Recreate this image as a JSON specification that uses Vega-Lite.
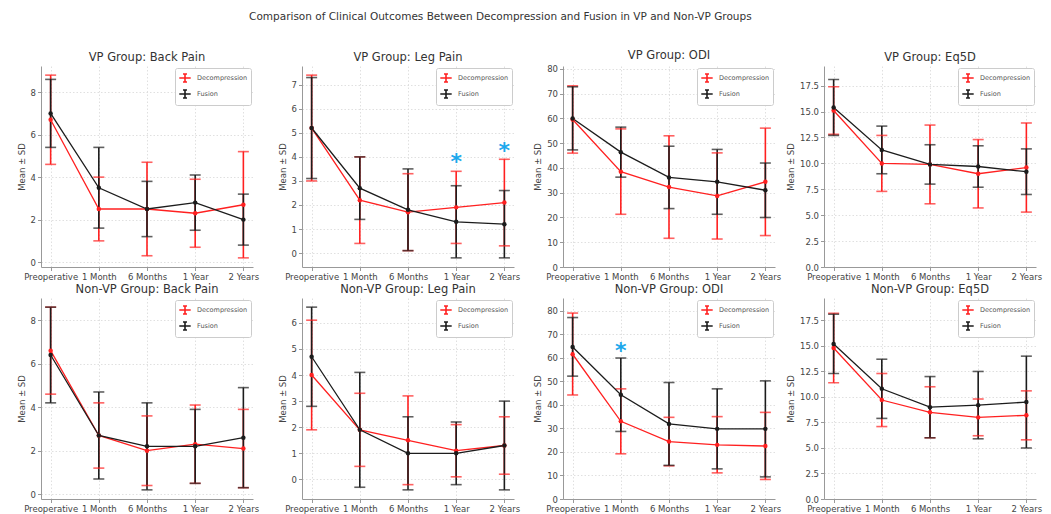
{
  "$schema": "https://vega.github.io/schema/vega-lite/v6.json",
  "background": "white",
  "padding": {"left": 17, "top": 11, "right": 5, "bottom": 5},
  "title": {"text": "Comparison of Clinical Outcomes Between Decompression and Fusion in VP and Non-VP Groups", "fontSize": 10.5, "fontWeight": "normal", "color": "#333", "anchor": "middle", "offset": 28, "dx": -29},
  "bounds": "flush",
  "columns": 4,
  "spacing": {"row": 31, "column": 49},
  "resolve": {"scale": {"color": "independent", "x": "independent", "y": "independent"}, "legend": {"color": "independent"}},
  "datasets": {
    "stars": [
      {"panel": "VP Leg Pain", "time": "1 Year", "y": 4.05},
      {"panel": "VP Leg Pain", "time": "2 Years", "y": 4.5},
      {"panel": "Non-VP ODI", "time": "1 Month", "y": 65.6}
    ]
  },
  "data": {"values": [
    {"panel": "VP Back Pain", "group": "Decompression", "time": "Preoperative", "mean": 6.7, "lo": 4.6, "hi": 8.8},
    {"panel": "VP Back Pain", "group": "Decompression", "time": "1 Month", "mean": 2.5, "lo": 1.0, "hi": 4.0},
    {"panel": "VP Back Pain", "group": "Decompression", "time": "6 Months", "mean": 2.5, "lo": 0.3, "hi": 4.7},
    {"panel": "VP Back Pain", "group": "Decompression", "time": "1 Year", "mean": 2.3, "lo": 0.7, "hi": 3.9},
    {"panel": "VP Back Pain", "group": "Decompression", "time": "2 Years", "mean": 2.7, "lo": 0.2, "hi": 5.2},
    {"panel": "VP Back Pain", "group": "Fusion", "time": "Preoperative", "mean": 7.0, "lo": 5.4, "hi": 8.6},
    {"panel": "VP Back Pain", "group": "Fusion", "time": "1 Month", "mean": 3.5, "lo": 1.6, "hi": 5.4},
    {"panel": "VP Back Pain", "group": "Fusion", "time": "6 Months", "mean": 2.5, "lo": 1.2, "hi": 3.8},
    {"panel": "VP Back Pain", "group": "Fusion", "time": "1 Year", "mean": 2.8, "lo": 1.5, "hi": 4.1},
    {"panel": "VP Back Pain", "group": "Fusion", "time": "2 Years", "mean": 2.0, "lo": 0.8, "hi": 3.2},

    {"panel": "VP Leg Pain", "group": "Decompression", "time": "Preoperative", "mean": 5.2, "lo": 3.0, "hi": 7.4},
    {"panel": "VP Leg Pain", "group": "Decompression", "time": "1 Month", "mean": 2.2, "lo": 0.4, "hi": 4.0},
    {"panel": "VP Leg Pain", "group": "Decompression", "time": "6 Months", "mean": 1.7, "lo": 0.1, "hi": 3.3},
    {"panel": "VP Leg Pain", "group": "Decompression", "time": "1 Year", "mean": 1.9, "lo": 0.4, "hi": 3.4},
    {"panel": "VP Leg Pain", "group": "Decompression", "time": "2 Years", "mean": 2.1, "lo": 0.3, "hi": 3.9},
    {"panel": "VP Leg Pain", "group": "Fusion", "time": "Preoperative", "mean": 5.2, "lo": 3.1, "hi": 7.3},
    {"panel": "VP Leg Pain", "group": "Fusion", "time": "1 Month", "mean": 2.7, "lo": 1.4, "hi": 4.0},
    {"panel": "VP Leg Pain", "group": "Fusion", "time": "6 Months", "mean": 1.8, "lo": 0.1, "hi": 3.5},
    {"panel": "VP Leg Pain", "group": "Fusion", "time": "1 Year", "mean": 1.3, "lo": -0.2, "hi": 2.8},
    {"panel": "VP Leg Pain", "group": "Fusion", "time": "2 Years", "mean": 1.2, "lo": -0.2, "hi": 2.6},

    {"panel": "VP ODI", "group": "Decompression", "time": "Preoperative", "mean": 59.6, "lo": 46.0, "hi": 73.2},
    {"panel": "VP ODI", "group": "Decompression", "time": "1 Month", "mean": 38.5, "lo": 21.3, "hi": 55.8},
    {"panel": "VP ODI", "group": "Decompression", "time": "6 Months", "mean": 32.3, "lo": 11.6, "hi": 53.0},
    {"panel": "VP ODI", "group": "Decompression", "time": "1 Year", "mean": 28.7, "lo": 11.3, "hi": 46.1},
    {"panel": "VP ODI", "group": "Decompression", "time": "2 Years", "mean": 34.4, "lo": 12.7, "hi": 56.1},
    {"panel": "VP ODI", "group": "Fusion", "time": "Preoperative", "mean": 60.0, "lo": 47.3, "hi": 72.8},
    {"panel": "VP ODI", "group": "Fusion", "time": "1 Month", "mean": 46.4, "lo": 36.3, "hi": 56.5},
    {"panel": "VP ODI", "group": "Fusion", "time": "6 Months", "mean": 36.2, "lo": 23.6, "hi": 48.8},
    {"panel": "VP ODI", "group": "Fusion", "time": "1 Year", "mean": 34.4, "lo": 21.3, "hi": 47.5},
    {"panel": "VP ODI", "group": "Fusion", "time": "2 Years", "mean": 31.0, "lo": 20.0, "hi": 42.0},

    {"panel": "VP Eq5D", "group": "Decompression", "time": "Preoperative", "mean": 15.1, "lo": 12.8, "hi": 17.4},
    {"panel": "VP Eq5D", "group": "Decompression", "time": "1 Month", "mean": 10.0, "lo": 7.3, "hi": 12.7},
    {"panel": "VP Eq5D", "group": "Decompression", "time": "6 Months", "mean": 9.9, "lo": 6.1, "hi": 13.7},
    {"panel": "VP Eq5D", "group": "Decompression", "time": "1 Year", "mean": 9.0, "lo": 5.7, "hi": 12.3},
    {"panel": "VP Eq5D", "group": "Decompression", "time": "2 Years", "mean": 9.6, "lo": 5.3, "hi": 13.9},
    {"panel": "VP Eq5D", "group": "Fusion", "time": "Preoperative", "mean": 15.4, "lo": 12.7, "hi": 18.1},
    {"panel": "VP Eq5D", "group": "Fusion", "time": "1 Month", "mean": 11.3, "lo": 9.0, "hi": 13.6},
    {"panel": "VP Eq5D", "group": "Fusion", "time": "6 Months", "mean": 9.9, "lo": 8.0, "hi": 11.8},
    {"panel": "VP Eq5D", "group": "Fusion", "time": "1 Year", "mean": 9.7, "lo": 7.7, "hi": 11.7},
    {"panel": "VP Eq5D", "group": "Fusion", "time": "2 Years", "mean": 9.2, "lo": 7.0, "hi": 11.4},

    {"panel": "Non-VP Back Pain", "group": "Decompression", "time": "Preoperative", "mean": 6.6, "lo": 4.6, "hi": 8.6},
    {"panel": "Non-VP Back Pain", "group": "Decompression", "time": "1 Month", "mean": 2.7, "lo": 1.2, "hi": 4.2},
    {"panel": "Non-VP Back Pain", "group": "Decompression", "time": "6 Months", "mean": 2.0, "lo": 0.4, "hi": 3.6},
    {"panel": "Non-VP Back Pain", "group": "Decompression", "time": "1 Year", "mean": 2.3, "lo": 0.5, "hi": 4.1},
    {"panel": "Non-VP Back Pain", "group": "Decompression", "time": "2 Years", "mean": 2.1, "lo": 0.3, "hi": 3.9},
    {"panel": "Non-VP Back Pain", "group": "Fusion", "time": "Preoperative", "mean": 6.4, "lo": 4.2, "hi": 8.6},
    {"panel": "Non-VP Back Pain", "group": "Fusion", "time": "1 Month", "mean": 2.7, "lo": 0.7, "hi": 4.7},
    {"panel": "Non-VP Back Pain", "group": "Fusion", "time": "6 Months", "mean": 2.2, "lo": 0.2, "hi": 4.2},
    {"panel": "Non-VP Back Pain", "group": "Fusion", "time": "1 Year", "mean": 2.2, "lo": 0.5, "hi": 3.9},
    {"panel": "Non-VP Back Pain", "group": "Fusion", "time": "2 Years", "mean": 2.6, "lo": 0.3, "hi": 4.9},

    {"panel": "Non-VP Leg Pain", "group": "Decompression", "time": "Preoperative", "mean": 4.0, "lo": 1.9, "hi": 6.1},
    {"panel": "Non-VP Leg Pain", "group": "Decompression", "time": "1 Month", "mean": 1.9, "lo": 0.5, "hi": 3.3},
    {"panel": "Non-VP Leg Pain", "group": "Decompression", "time": "6 Months", "mean": 1.5, "lo": -0.2, "hi": 3.2},
    {"panel": "Non-VP Leg Pain", "group": "Decompression", "time": "1 Year", "mean": 1.1, "lo": 0.1, "hi": 2.1},
    {"panel": "Non-VP Leg Pain", "group": "Decompression", "time": "2 Years", "mean": 1.3, "lo": 0.2, "hi": 2.4},
    {"panel": "Non-VP Leg Pain", "group": "Fusion", "time": "Preoperative", "mean": 4.7, "lo": 2.8, "hi": 6.6},
    {"panel": "Non-VP Leg Pain", "group": "Fusion", "time": "1 Month", "mean": 1.9, "lo": -0.3, "hi": 4.1},
    {"panel": "Non-VP Leg Pain", "group": "Fusion", "time": "6 Months", "mean": 1.0, "lo": -0.4, "hi": 2.4},
    {"panel": "Non-VP Leg Pain", "group": "Fusion", "time": "1 Year", "mean": 1.0, "lo": -0.2, "hi": 2.2},
    {"panel": "Non-VP Leg Pain", "group": "Fusion", "time": "2 Years", "mean": 1.3, "lo": -0.4, "hi": 3.0},

    {"panel": "Non-VP ODI", "group": "Decompression", "time": "Preoperative", "mean": 61.5, "lo": 44.2, "hi": 79.0},
    {"panel": "Non-VP ODI", "group": "Decompression", "time": "1 Month", "mean": 33.0, "lo": 19.2, "hi": 46.8},
    {"panel": "Non-VP ODI", "group": "Decompression", "time": "6 Months", "mean": 24.4, "lo": 14.1, "hi": 34.7},
    {"panel": "Non-VP ODI", "group": "Decompression", "time": "1 Year", "mean": 23.0, "lo": 11.1, "hi": 35.0},
    {"panel": "Non-VP ODI", "group": "Decompression", "time": "2 Years", "mean": 22.5, "lo": 8.3, "hi": 36.8},
    {"panel": "Non-VP ODI", "group": "Fusion", "time": "Preoperative", "mean": 64.6, "lo": 52.2, "hi": 77.1},
    {"panel": "Non-VP ODI", "group": "Fusion", "time": "1 Month", "mean": 44.3, "lo": 28.7, "hi": 59.9},
    {"panel": "Non-VP ODI", "group": "Fusion", "time": "6 Months", "mean": 31.9, "lo": 14.3, "hi": 49.5},
    {"panel": "Non-VP ODI", "group": "Fusion", "time": "1 Year", "mean": 29.8, "lo": 12.8, "hi": 46.8},
    {"panel": "Non-VP ODI", "group": "Fusion", "time": "2 Years", "mean": 29.8, "lo": 9.4, "hi": 50.2},

    {"panel": "Non-VP Eq5D", "group": "Decompression", "time": "Preoperative", "mean": 14.8, "lo": 11.4, "hi": 18.2},
    {"panel": "Non-VP Eq5D", "group": "Decompression", "time": "1 Month", "mean": 9.7, "lo": 7.1, "hi": 12.3},
    {"panel": "Non-VP Eq5D", "group": "Decompression", "time": "6 Months", "mean": 8.5, "lo": 6.0, "hi": 11.0},
    {"panel": "Non-VP Eq5D", "group": "Decompression", "time": "1 Year", "mean": 8.0, "lo": 6.2, "hi": 9.8},
    {"panel": "Non-VP Eq5D", "group": "Decompression", "time": "2 Years", "mean": 8.2, "lo": 5.8, "hi": 10.6},
    {"panel": "Non-VP Eq5D", "group": "Fusion", "time": "Preoperative", "mean": 15.2, "lo": 12.3, "hi": 18.1},
    {"panel": "Non-VP Eq5D", "group": "Fusion", "time": "1 Month", "mean": 10.8, "lo": 7.9, "hi": 13.7},
    {"panel": "Non-VP Eq5D", "group": "Fusion", "time": "6 Months", "mean": 9.0, "lo": 6.0, "hi": 12.0},
    {"panel": "Non-VP Eq5D", "group": "Fusion", "time": "1 Year", "mean": 9.2, "lo": 5.9, "hi": 12.5},
    {"panel": "Non-VP Eq5D", "group": "Fusion", "time": "2 Years", "mean": 9.5, "lo": 5.0, "hi": 14.0}
  ]},
  "config": {
    "font": "DejaVu Sans",
    "view": {"stroke": null},
    "axis": {"labelFont": "DejaVu Sans", "labelFontSize": 8.5, "labelColor": "#444", "titleFont": "DejaVu Sans", "titleFontSize": 8.5, "titleFontWeight": "normal", "titleColor": "#444", "domainColor": "#999", "tickColor": "#999", "tickSize": 3.5, "labelPadding": 2, "grid": true, "gridColor": "#d8d8d8", "gridDash": [1.5, 2], "gridWidth": 0.8},
    "axisX": {"labelAngle": 0, "labelOverlap": false, "labelBound": false},
    "axisY": {"titlePadding": 4, "labelOverlap": false},
    "title": {"font": "DejaVu Sans", "fontSize": 11.5, "fontWeight": "normal", "color": "#333", "offset": 3},
    "legend": {"orient": "top-right", "offset": 2, "padding": 3, "strokeColor": "#cccccc", "fillColor": "white", "cornerRadius": 2, "labelFont": "DejaVu Sans", "labelFontSize": 6.5, "labelColor": "#555", "rowPadding": 0, "labelOffset": 5},
    "line": {"strokeWidth": 1.3},
    "rule": {"strokeWidth": 1.6},
    "point": {"filled": true, "size": 20, "opacity": 1},
    "text": {"font": "DejaVu Sans"}
  },
  "concat": [
    {
      "title": "VP Group: Back Pain", "width": 212, "height": 201,
      "transform": [{"filter": "datum.panel === 'VP Back Pain'"}],
      "encoding": {
        "x": {"field": "time", "type": "ordinal", "title": null, "sort": ["Preoperative", "1 Month", "6 Months", "1 Year", "2 Years"], "scale": {"type": "point", "padding": 0.2}},
        "color": {"field": "group", "type": "nominal", "scale": {"domain": ["Decompression", "Fusion"], "range": ["#ff2020", "#1c1c1c"]}, "legend": {"title": null, "symbolType": "M-1,0H1M0,-0.7V0.7M-0.35,-0.7H0.35M-0.35,0.7H0.35", "symbolSize": 130, "symbolStrokeWidth": 1.3}}
      },
      "layer": [
        {"mark": "rule", "encoding": {"y": {"field": "lo", "type": "quantitative", "title": "Mean ± SD", "scale": {"domain": [-0.23, 9.23], "nice": false, "zero": false}, "axis": {"values": [0, 2, 4, 6, 8]}}, "y2": {"field": "hi"}}},
        {"mark": {"type": "tick", "size": 11, "thickness": 1.6}, "encoding": {"y": {"field": "lo", "type": "quantitative", "title": "Mean ± SD", "scale": {"domain": [-0.23, 9.23], "nice": false, "zero": false}, "axis": {"values": [0, 2, 4, 6, 8]}}}},
        {"mark": {"type": "tick", "size": 11, "thickness": 1.6}, "encoding": {"y": {"field": "hi", "type": "quantitative", "title": "Mean ± SD", "scale": {"domain": [-0.23, 9.23], "nice": false, "zero": false}, "axis": {"values": [0, 2, 4, 6, 8]}}}},
        {"mark": "line", "encoding": {"y": {"field": "mean", "type": "quantitative", "title": "Mean ± SD", "scale": {"domain": [-0.23, 9.23], "nice": false, "zero": false}, "axis": {"values": [0, 2, 4, 6, 8]}}}},
        {"mark": "point", "encoding": {"y": {"field": "mean", "type": "quantitative", "title": "Mean ± SD", "scale": {"domain": [-0.23, 9.23], "nice": false, "zero": false}, "axis": {"values": [0, 2, 4, 6, 8]}}}}
      ]
    },
    {
      "title": "VP Group: Leg Pain", "width": 212, "height": 201,
      "transform": [{"filter": "datum.panel === 'VP Leg Pain'"}],
      "encoding": {
        "x": {"field": "time", "type": "ordinal", "title": null, "sort": ["Preoperative", "1 Month", "6 Months", "1 Year", "2 Years"], "scale": {"type": "point", "padding": 0.2}},
        "color": {"field": "group", "type": "nominal", "scale": {"domain": ["Decompression", "Fusion"], "range": ["#ff2020", "#1c1c1c"]}, "legend": {"title": null, "symbolType": "M-1,0H1M0,-0.7V0.7M-0.35,-0.7H0.35M-0.35,0.7H0.35", "symbolSize": 130, "symbolStrokeWidth": 1.3}}
      },
      "layer": [
        {"mark": "rule", "encoding": {"y": {"field": "lo", "type": "quantitative", "title": "Mean ± SD", "scale": {"domain": [-0.58, 7.78], "nice": false, "zero": false}, "axis": {"values": [0, 1, 2, 3, 4, 5, 6, 7]}}, "y2": {"field": "hi"}}},
        {"mark": {"type": "tick", "size": 11, "thickness": 1.6}, "encoding": {"y": {"field": "lo", "type": "quantitative", "title": "Mean ± SD", "scale": {"domain": [-0.58, 7.78], "nice": false, "zero": false}, "axis": {"values": [0, 1, 2, 3, 4, 5, 6, 7]}}}},
        {"mark": {"type": "tick", "size": 11, "thickness": 1.6}, "encoding": {"y": {"field": "hi", "type": "quantitative", "title": "Mean ± SD", "scale": {"domain": [-0.58, 7.78], "nice": false, "zero": false}, "axis": {"values": [0, 1, 2, 3, 4, 5, 6, 7]}}}},
        {"mark": "line", "encoding": {"y": {"field": "mean", "type": "quantitative", "title": "Mean ± SD", "scale": {"domain": [-0.58, 7.78], "nice": false, "zero": false}, "axis": {"values": [0, 1, 2, 3, 4, 5, 6, 7]}}}},
        {"mark": "point", "encoding": {"y": {"field": "mean", "type": "quantitative", "title": "Mean ± SD", "scale": {"domain": [-0.58, 7.78], "nice": false, "zero": false}, "axis": {"values": [0, 1, 2, 3, 4, 5, 6, 7]}}}},
        {"data": {"name": "stars"}, "transform": [{"filter": "datum.panel === 'VP Leg Pain'"}], "mark": {"type": "text", "text": "*", "fontSize": 22, "fontWeight": "bold", "baseline": "alphabetic", "dy": 13}, "encoding": {"y": {"field": "y", "type": "quantitative", "title": "Mean ± SD", "scale": {"domain": [-0.58, 7.78], "nice": false, "zero": false}, "axis": {"values": [0, 1, 2, 3, 4, 5, 6, 7]}}, "color": {"value": "#1ca8ec"}}}
      ]
    },
    {
      "title": "VP Group: ODI", "width": 212, "height": 201,
      "transform": [{"filter": "datum.panel === 'VP ODI'"}],
      "encoding": {
        "x": {"field": "time", "type": "ordinal", "title": null, "sort": ["Preoperative", "1 Month", "6 Months", "1 Year", "2 Years"], "scale": {"type": "point", "padding": 0.2}},
        "color": {"field": "group", "type": "nominal", "scale": {"domain": ["Decompression", "Fusion"], "range": ["#ff2020", "#1c1c1c"]}, "legend": {"title": null, "symbolType": "M-1,0H1M0,-0.7V0.7M-0.35,-0.7H0.35M-0.35,0.7H0.35", "symbolSize": 130, "symbolStrokeWidth": 1.3}}
      },
      "layer": [
        {"mark": "rule", "encoding": {"y": {"field": "lo", "type": "quantitative", "title": "Mean ± SD", "scale": {"domain": [0, 81.2], "nice": false, "zero": false}, "axis": {"values": [0, 10, 20, 30, 40, 50, 60, 70, 80]}}, "y2": {"field": "hi"}}},
        {"mark": {"type": "tick", "size": 11, "thickness": 1.6}, "encoding": {"y": {"field": "lo", "type": "quantitative", "title": "Mean ± SD", "scale": {"domain": [0, 81.2], "nice": false, "zero": false}, "axis": {"values": [0, 10, 20, 30, 40, 50, 60, 70, 80]}}}},
        {"mark": {"type": "tick", "size": 11, "thickness": 1.6}, "encoding": {"y": {"field": "hi", "type": "quantitative", "title": "Mean ± SD", "scale": {"domain": [0, 81.2], "nice": false, "zero": false}, "axis": {"values": [0, 10, 20, 30, 40, 50, 60, 70, 80]}}}},
        {"mark": "line", "encoding": {"y": {"field": "mean", "type": "quantitative", "title": "Mean ± SD", "scale": {"domain": [0, 81.2], "nice": false, "zero": false}, "axis": {"values": [0, 10, 20, 30, 40, 50, 60, 70, 80]}}}},
        {"mark": "point", "encoding": {"y": {"field": "mean", "type": "quantitative", "title": "Mean ± SD", "scale": {"domain": [0, 81.2], "nice": false, "zero": false}, "axis": {"values": [0, 10, 20, 30, 40, 50, 60, 70, 80]}}}}
      ]
    },
    {
      "title": "VP Group: Eq5D", "width": 212, "height": 201,
      "transform": [{"filter": "datum.panel === 'VP Eq5D'"}],
      "encoding": {
        "x": {"field": "time", "type": "ordinal", "title": null, "sort": ["Preoperative", "1 Month", "6 Months", "1 Year", "2 Years"], "scale": {"type": "point", "padding": 0.2}},
        "color": {"field": "group", "type": "nominal", "scale": {"domain": ["Decompression", "Fusion"], "range": ["#ff2020", "#1c1c1c"]}, "legend": {"title": null, "symbolType": "M-1,0H1M0,-0.7V0.7M-0.35,-0.7H0.35M-0.35,0.7H0.35", "symbolSize": 130, "symbolStrokeWidth": 1.3}}
      },
      "layer": [
        {"mark": "rule", "encoding": {"y": {"field": "lo", "type": "quantitative", "title": "Mean ± SD", "scale": {"domain": [0, 19.4], "nice": false, "zero": false}, "axis": {"values": [0, 2.5, 5, 7.5, 10, 12.5, 15, 17.5], "format": ".1f"}}, "y2": {"field": "hi"}}},
        {"mark": {"type": "tick", "size": 11, "thickness": 1.6}, "encoding": {"y": {"field": "lo", "type": "quantitative", "title": "Mean ± SD", "scale": {"domain": [0, 19.4], "nice": false, "zero": false}, "axis": {"values": [0, 2.5, 5, 7.5, 10, 12.5, 15, 17.5], "format": ".1f"}}}},
        {"mark": {"type": "tick", "size": 11, "thickness": 1.6}, "encoding": {"y": {"field": "hi", "type": "quantitative", "title": "Mean ± SD", "scale": {"domain": [0, 19.4], "nice": false, "zero": false}, "axis": {"values": [0, 2.5, 5, 7.5, 10, 12.5, 15, 17.5], "format": ".1f"}}}},
        {"mark": "line", "encoding": {"y": {"field": "mean", "type": "quantitative", "title": "Mean ± SD", "scale": {"domain": [0, 19.4], "nice": false, "zero": false}, "axis": {"values": [0, 2.5, 5, 7.5, 10, 12.5, 15, 17.5], "format": ".1f"}}}},
        {"mark": "point", "encoding": {"y": {"field": "mean", "type": "quantitative", "title": "Mean ± SD", "scale": {"domain": [0, 19.4], "nice": false, "zero": false}, "axis": {"values": [0, 2.5, 5, 7.5, 10, 12.5, 15, 17.5], "format": ".1f"}}}}
      ]
    },
    {
      "title": "Non-VP Group: Back Pain", "width": 212, "height": 201,
      "transform": [{"filter": "datum.panel === 'Non-VP Back Pain'"}],
      "encoding": {
        "x": {"field": "time", "type": "ordinal", "title": null, "sort": ["Preoperative", "1 Month", "6 Months", "1 Year", "2 Years"], "scale": {"type": "point", "padding": 0.2}},
        "color": {"field": "group", "type": "nominal", "scale": {"domain": ["Decompression", "Fusion"], "range": ["#ff2020", "#1c1c1c"]}, "legend": {"title": null, "symbolType": "M-1,0H1M0,-0.7V0.7M-0.35,-0.7H0.35M-0.35,0.7H0.35", "symbolSize": 130, "symbolStrokeWidth": 1.3}}
      },
      "layer": [
        {"mark": "rule", "encoding": {"y": {"field": "lo", "type": "quantitative", "title": "Mean ± SD", "scale": {"domain": [-0.22, 9.02], "nice": false, "zero": false}, "axis": {"values": [0, 2, 4, 6, 8]}}, "y2": {"field": "hi"}}},
        {"mark": {"type": "tick", "size": 11, "thickness": 1.6}, "encoding": {"y": {"field": "lo", "type": "quantitative", "title": "Mean ± SD", "scale": {"domain": [-0.22, 9.02], "nice": false, "zero": false}, "axis": {"values": [0, 2, 4, 6, 8]}}}},
        {"mark": {"type": "tick", "size": 11, "thickness": 1.6}, "encoding": {"y": {"field": "hi", "type": "quantitative", "title": "Mean ± SD", "scale": {"domain": [-0.22, 9.02], "nice": false, "zero": false}, "axis": {"values": [0, 2, 4, 6, 8]}}}},
        {"mark": "line", "encoding": {"y": {"field": "mean", "type": "quantitative", "title": "Mean ± SD", "scale": {"domain": [-0.22, 9.02], "nice": false, "zero": false}, "axis": {"values": [0, 2, 4, 6, 8]}}}},
        {"mark": "point", "encoding": {"y": {"field": "mean", "type": "quantitative", "title": "Mean ± SD", "scale": {"domain": [-0.22, 9.02], "nice": false, "zero": false}, "axis": {"values": [0, 2, 4, 6, 8]}}}}
      ]
    },
    {
      "title": "Non-VP Group: Leg Pain", "width": 212, "height": 201,
      "transform": [{"filter": "datum.panel === 'Non-VP Leg Pain'"}],
      "encoding": {
        "x": {"field": "time", "type": "ordinal", "title": null, "sort": ["Preoperative", "1 Month", "6 Months", "1 Year", "2 Years"], "scale": {"type": "point", "padding": 0.2}},
        "color": {"field": "group", "type": "nominal", "scale": {"domain": ["Decompression", "Fusion"], "range": ["#ff2020", "#1c1c1c"]}, "legend": {"title": null, "symbolType": "M-1,0H1M0,-0.7V0.7M-0.35,-0.7H0.35M-0.35,0.7H0.35", "symbolSize": 130, "symbolStrokeWidth": 1.3}}
      },
      "layer": [
        {"mark": "rule", "encoding": {"y": {"field": "lo", "type": "quantitative", "title": "Mean ± SD", "scale": {"domain": [-0.75, 6.95], "nice": false, "zero": false}, "axis": {"values": [0, 1, 2, 3, 4, 5, 6]}}, "y2": {"field": "hi"}}},
        {"mark": {"type": "tick", "size": 11, "thickness": 1.6}, "encoding": {"y": {"field": "lo", "type": "quantitative", "title": "Mean ± SD", "scale": {"domain": [-0.75, 6.95], "nice": false, "zero": false}, "axis": {"values": [0, 1, 2, 3, 4, 5, 6]}}}},
        {"mark": {"type": "tick", "size": 11, "thickness": 1.6}, "encoding": {"y": {"field": "hi", "type": "quantitative", "title": "Mean ± SD", "scale": {"domain": [-0.75, 6.95], "nice": false, "zero": false}, "axis": {"values": [0, 1, 2, 3, 4, 5, 6]}}}},
        {"mark": "line", "encoding": {"y": {"field": "mean", "type": "quantitative", "title": "Mean ± SD", "scale": {"domain": [-0.75, 6.95], "nice": false, "zero": false}, "axis": {"values": [0, 1, 2, 3, 4, 5, 6]}}}},
        {"mark": "point", "encoding": {"y": {"field": "mean", "type": "quantitative", "title": "Mean ± SD", "scale": {"domain": [-0.75, 6.95], "nice": false, "zero": false}, "axis": {"values": [0, 1, 2, 3, 4, 5, 6]}}}}
      ]
    },
    {
      "title": "Non-VP Group: ODI", "width": 212, "height": 201,
      "transform": [{"filter": "datum.panel === 'Non-VP ODI'"}],
      "encoding": {
        "x": {"field": "time", "type": "ordinal", "title": null, "sort": ["Preoperative", "1 Month", "6 Months", "1 Year", "2 Years"], "scale": {"type": "point", "padding": 0.2}},
        "color": {"field": "group", "type": "nominal", "scale": {"domain": ["Decompression", "Fusion"], "range": ["#ff2020", "#1c1c1c"]}, "legend": {"title": null, "symbolType": "M-1,0H1M0,-0.7V0.7M-0.35,-0.7H0.35M-0.35,0.7H0.35", "symbolSize": 130, "symbolStrokeWidth": 1.3}}
      },
      "layer": [
        {"mark": "rule", "encoding": {"y": {"field": "lo", "type": "quantitative", "title": "Mean ± SD", "scale": {"domain": [0, 85.4], "nice": false, "zero": false}, "axis": {"values": [0, 10, 20, 30, 40, 50, 60, 70, 80]}}, "y2": {"field": "hi"}}},
        {"mark": {"type": "tick", "size": 11, "thickness": 1.6}, "encoding": {"y": {"field": "lo", "type": "quantitative", "title": "Mean ± SD", "scale": {"domain": [0, 85.4], "nice": false, "zero": false}, "axis": {"values": [0, 10, 20, 30, 40, 50, 60, 70, 80]}}}},
        {"mark": {"type": "tick", "size": 11, "thickness": 1.6}, "encoding": {"y": {"field": "hi", "type": "quantitative", "title": "Mean ± SD", "scale": {"domain": [0, 85.4], "nice": false, "zero": false}, "axis": {"values": [0, 10, 20, 30, 40, 50, 60, 70, 80]}}}},
        {"mark": "line", "encoding": {"y": {"field": "mean", "type": "quantitative", "title": "Mean ± SD", "scale": {"domain": [0, 85.4], "nice": false, "zero": false}, "axis": {"values": [0, 10, 20, 30, 40, 50, 60, 70, 80]}}}},
        {"mark": "point", "encoding": {"y": {"field": "mean", "type": "quantitative", "title": "Mean ± SD", "scale": {"domain": [0, 85.4], "nice": false, "zero": false}, "axis": {"values": [0, 10, 20, 30, 40, 50, 60, 70, 80]}}}},
        {"data": {"name": "stars"}, "transform": [{"filter": "datum.panel === 'Non-VP ODI'"}], "mark": {"type": "text", "text": "*", "fontSize": 22, "fontWeight": "bold", "baseline": "alphabetic", "dy": 13}, "encoding": {"y": {"field": "y", "type": "quantitative", "title": "Mean ± SD", "scale": {"domain": [0, 85.4], "nice": false, "zero": false}, "axis": {"values": [0, 10, 20, 30, 40, 50, 60, 70, 80]}}, "color": {"value": "#1ca8ec"}}}
      ]
    },
    {
      "title": "Non-VP Group: Eq5D", "width": 212, "height": 201,
      "transform": [{"filter": "datum.panel === 'Non-VP Eq5D'"}],
      "encoding": {
        "x": {"field": "time", "type": "ordinal", "title": null, "sort": ["Preoperative", "1 Month", "6 Months", "1 Year", "2 Years"], "scale": {"type": "point", "padding": 0.2}},
        "color": {"field": "group", "type": "nominal", "scale": {"domain": ["Decompression", "Fusion"], "range": ["#ff2020", "#1c1c1c"]}, "legend": {"title": null, "symbolType": "M-1,0H1M0,-0.7V0.7M-0.35,-0.7H0.35M-0.35,0.7H0.35", "symbolSize": 130, "symbolStrokeWidth": 1.3}}
      },
      "layer": [
        {"mark": "rule", "encoding": {"y": {"field": "lo", "type": "quantitative", "title": "Mean ± SD", "scale": {"domain": [0, 19.7], "nice": false, "zero": false}, "axis": {"values": [0, 2.5, 5, 7.5, 10, 12.5, 15, 17.5], "format": ".1f"}}, "y2": {"field": "hi"}}},
        {"mark": {"type": "tick", "size": 11, "thickness": 1.6}, "encoding": {"y": {"field": "lo", "type": "quantitative", "title": "Mean ± SD", "scale": {"domain": [0, 19.7], "nice": false, "zero": false}, "axis": {"values": [0, 2.5, 5, 7.5, 10, 12.5, 15, 17.5], "format": ".1f"}}}},
        {"mark": {"type": "tick", "size": 11, "thickness": 1.6}, "encoding": {"y": {"field": "hi", "type": "quantitative", "title": "Mean ± SD", "scale": {"domain": [0, 19.7], "nice": false, "zero": false}, "axis": {"values": [0, 2.5, 5, 7.5, 10, 12.5, 15, 17.5], "format": ".1f"}}}},
        {"mark": "line", "encoding": {"y": {"field": "mean", "type": "quantitative", "title": "Mean ± SD", "scale": {"domain": [0, 19.7], "nice": false, "zero": false}, "axis": {"values": [0, 2.5, 5, 7.5, 10, 12.5, 15, 17.5], "format": ".1f"}}}},
        {"mark": "point", "encoding": {"y": {"field": "mean", "type": "quantitative", "title": "Mean ± SD", "scale": {"domain": [0, 19.7], "nice": false, "zero": false}, "axis": {"values": [0, 2.5, 5, 7.5, 10, 12.5, 15, 17.5], "format": ".1f"}}}}
      ]
    }
  ]
}
